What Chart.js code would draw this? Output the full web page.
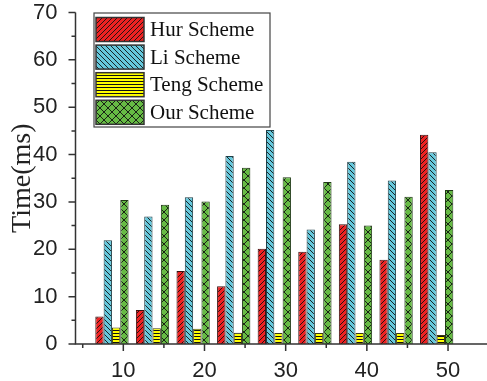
<!DOCTYPE html>
<html><head><meta charset="utf-8">
<script src="https://cdn.jsdelivr.net/npm/chart.js@4.4.0/dist/chart.umd.min.js"></script>
<style>html,body{margin:0;padding:0;background:#fff;}#wrap{width:487px;height:381px;}</style>
</head><body><div id="wrap"><canvas id="c" width="487" height="381"></canvas></div>
<script>
// ---- data ----
const categories = [10, 15, 20, 25, 30, 35, 40, 45, 50];
const seriesNames = ['Hur Scheme', 'Li Scheme', 'Teng Scheme', 'Our Scheme'];
const hurValues  = [5.8, 7.2, 15.4, 12.2, 20.1, 19.5, 25.3, 17.8, 44.2];
const liValues   = [21.9, 26.9, 31.0, 39.7, 45.2, 24.2, 38.5, 34.5, 40.5];
const tengValues = [3.5, 3.3, 3.2, 2.4, 2.3, 2.3, 2.3, 2.3, 1.9];
const ourValues  = [30.4, 29.4, 30.1, 37.2, 35.2, 34.2, 25.0, 31.1, 32.5];
const xTickLabels = [10, 20, 30, 40, 50];
const xMinorTicks = [5, 15, 25, 35, 45];
const yTickLabels = [0, 10, 20, 30, 40, 50, 60, 70];
const yMinorTicks = [5, 15, 25, 35, 45, 55, 65];

// ---- layout / style constants ----
const groupShift = -1.4;
const AXIS_COLOR = '#333';

function makePattern(kind, base) {
  const s = kind === 'cross' ? 8 : (kind === 'h' ? 3 : 5);
  const cv = document.createElement('canvas');
  cv.width = s; cv.height = s;
  const g = cv.getContext('2d');
  g.fillStyle = base; g.fillRect(0, 0, s, s);
  g.strokeStyle = '#111'; g.lineWidth = kind === 'h' ? 1 : 0.9;
  g.beginPath();
  if (kind === 'h') {
    g.moveTo(0, 0.5); g.lineTo(s, 0.5);
  } else {
    for (let k = -1; k <= 1; k++) {
      if (kind === 'up' || kind === 'cross') { g.moveTo(k * s - 1, s + 1); g.lineTo(k * s + s + 1, -1); }
      if (kind === 'down' || kind === 'cross') { g.moveTo(k * s - 1, -1); g.lineTo(k * s + s + 1, s + 1); }
    }
  }
  g.stroke();
  return document.getElementById('c').getContext('2d').createPattern(cv, 'repeat');
}

const fills = [
  makePattern('up', '#ee2222'),
  makePattern('down', '#66c8dc'),
  makePattern('h', '#ffff00'),
  makePattern('cross', '#66bb44')
];
const borders = ['#3a1010', '#1f3f48', '#3a3a10', '#1f3a14'];
const seriesValues = [hurValues, liValues, tengValues, ourValues];

const datasets = seriesNames.map((name, k) => ({
  label: name,
  data: categories.map((c, i) => ({ x: c + groupShift, y: seriesValues[k][i] })),
  backgroundColor: fills[k],
  borderColor: borders[k],
  borderWidth: 1,
  categoryPercentage: 0.82,
  barPercentage: 1.0
}));

const axesPlugin = {
  id: 'axesPlugin',
  afterDraw(chart) {
    const ctx = chart.ctx;
    const xs = chart.scales.x, ys = chart.scales.y;
    const a = chart.chartArea;
    ctx.save();
    ctx.strokeStyle = AXIS_COLOR;
    ctx.lineWidth = 1.5;
    ctx.beginPath();
    ctx.moveTo(a.left, ys.getPixelForValue(70)); ctx.lineTo(a.left, a.bottom);
    ctx.lineTo(a.right, a.bottom);
    ctx.stroke();
    ctx.beginPath();
    yTickLabels.forEach(v => { const y = ys.getPixelForValue(v); ctx.moveTo(a.left, y); ctx.lineTo(a.left - 7, y); });
    yMinorTicks.forEach(v => { const y = ys.getPixelForValue(v); ctx.moveTo(a.left, y); ctx.lineTo(a.left - 4, y); });
    xTickLabels.forEach(v => { const x = xs.getPixelForValue(v); ctx.moveTo(x, a.bottom); ctx.lineTo(x, a.bottom + 7); });
    xMinorTicks.forEach(v => { const x = xs.getPixelForValue(v); ctx.moveTo(x, a.bottom); ctx.lineTo(x, a.bottom + 4); });
    ctx.stroke();

    // legend
    const lx = 94, ly = 13, lw = 176, lh = 114;
    ctx.fillStyle = '#fff';
    ctx.fillRect(lx, ly, lw, lh);
    ctx.strokeStyle = '#444'; ctx.lineWidth = 1.2;
    ctx.strokeRect(lx, ly, lw, lh);
    const pitch = 27.6;
    chart.data.datasets.forEach((ds, k) => {
      const sy = ly + 4.5 + k * pitch;
      ctx.fillStyle = ds.backgroundColor;
      ctx.fillRect(lx + 2, sy, 48, 24);
      ctx.strokeStyle = '#333'; ctx.lineWidth = 1.5;
      ctx.strokeRect(lx + 2, sy, 48, 24);
      ctx.fillStyle = '#111';
      ctx.font = '21px "Liberation Serif", "Times New Roman", serif';
      ctx.textBaseline = 'middle'; ctx.textAlign = 'left';
      ctx.fillText(ds.label, lx + 56, sy + 13);
    });
    ctx.restore();
  }
};

new Chart(document.getElementById('c'), {
  type: 'bar',
  data: { datasets },
  options: {
    responsive: false,
    animation: false,
    devicePixelRatio: 1,
    layout: { padding: { left: 0, top: 12.5, right: 0, bottom: 0 } },
    plugins: { legend: { display: false }, tooltip: { enabled: false } },
    scales: {
      x: {
        type: 'linear', min: 4.11, max: 54.8, offset: false,
        grid: { display: false }, border: { display: false },
        afterBuildTicks: s => { s.ticks = xTickLabels.map(v => ({ value: v })); },
        afterFit: s => { s.height = 37; s.paddingLeft = 0; s.paddingRight = 0; },
        ticks: {
          color: '#222', padding: 6, maxRotation: 0, autoSkip: false,
          font: { family: '"Liberation Sans", Arial, sans-serif', size: 22 }
        }
      },
      y: {
        type: 'linear', min: 0, max: 70,
        grid: { display: false }, border: { display: false },
        afterBuildTicks: s => { s.ticks = yTickLabels.map(v => ({ value: v })); },
        afterFit: s => { s.width = 75.5; s.paddingTop = 0; s.paddingBottom = 0; },
        ticks: {
          color: '#222', padding: 10,
          font: { family: '"Liberation Sans", Arial, sans-serif', size: 22 }
        },
        title: {
          display: true, text: 'Time(ms)', color: '#222', padding: { top: 6, bottom: 0 },
          font: { family: '"Liberation Serif", "Times New Roman", serif', size: 28 }
        }
      }
    }
  },
  plugins: [axesPlugin]
});
</script>
</body></html>
